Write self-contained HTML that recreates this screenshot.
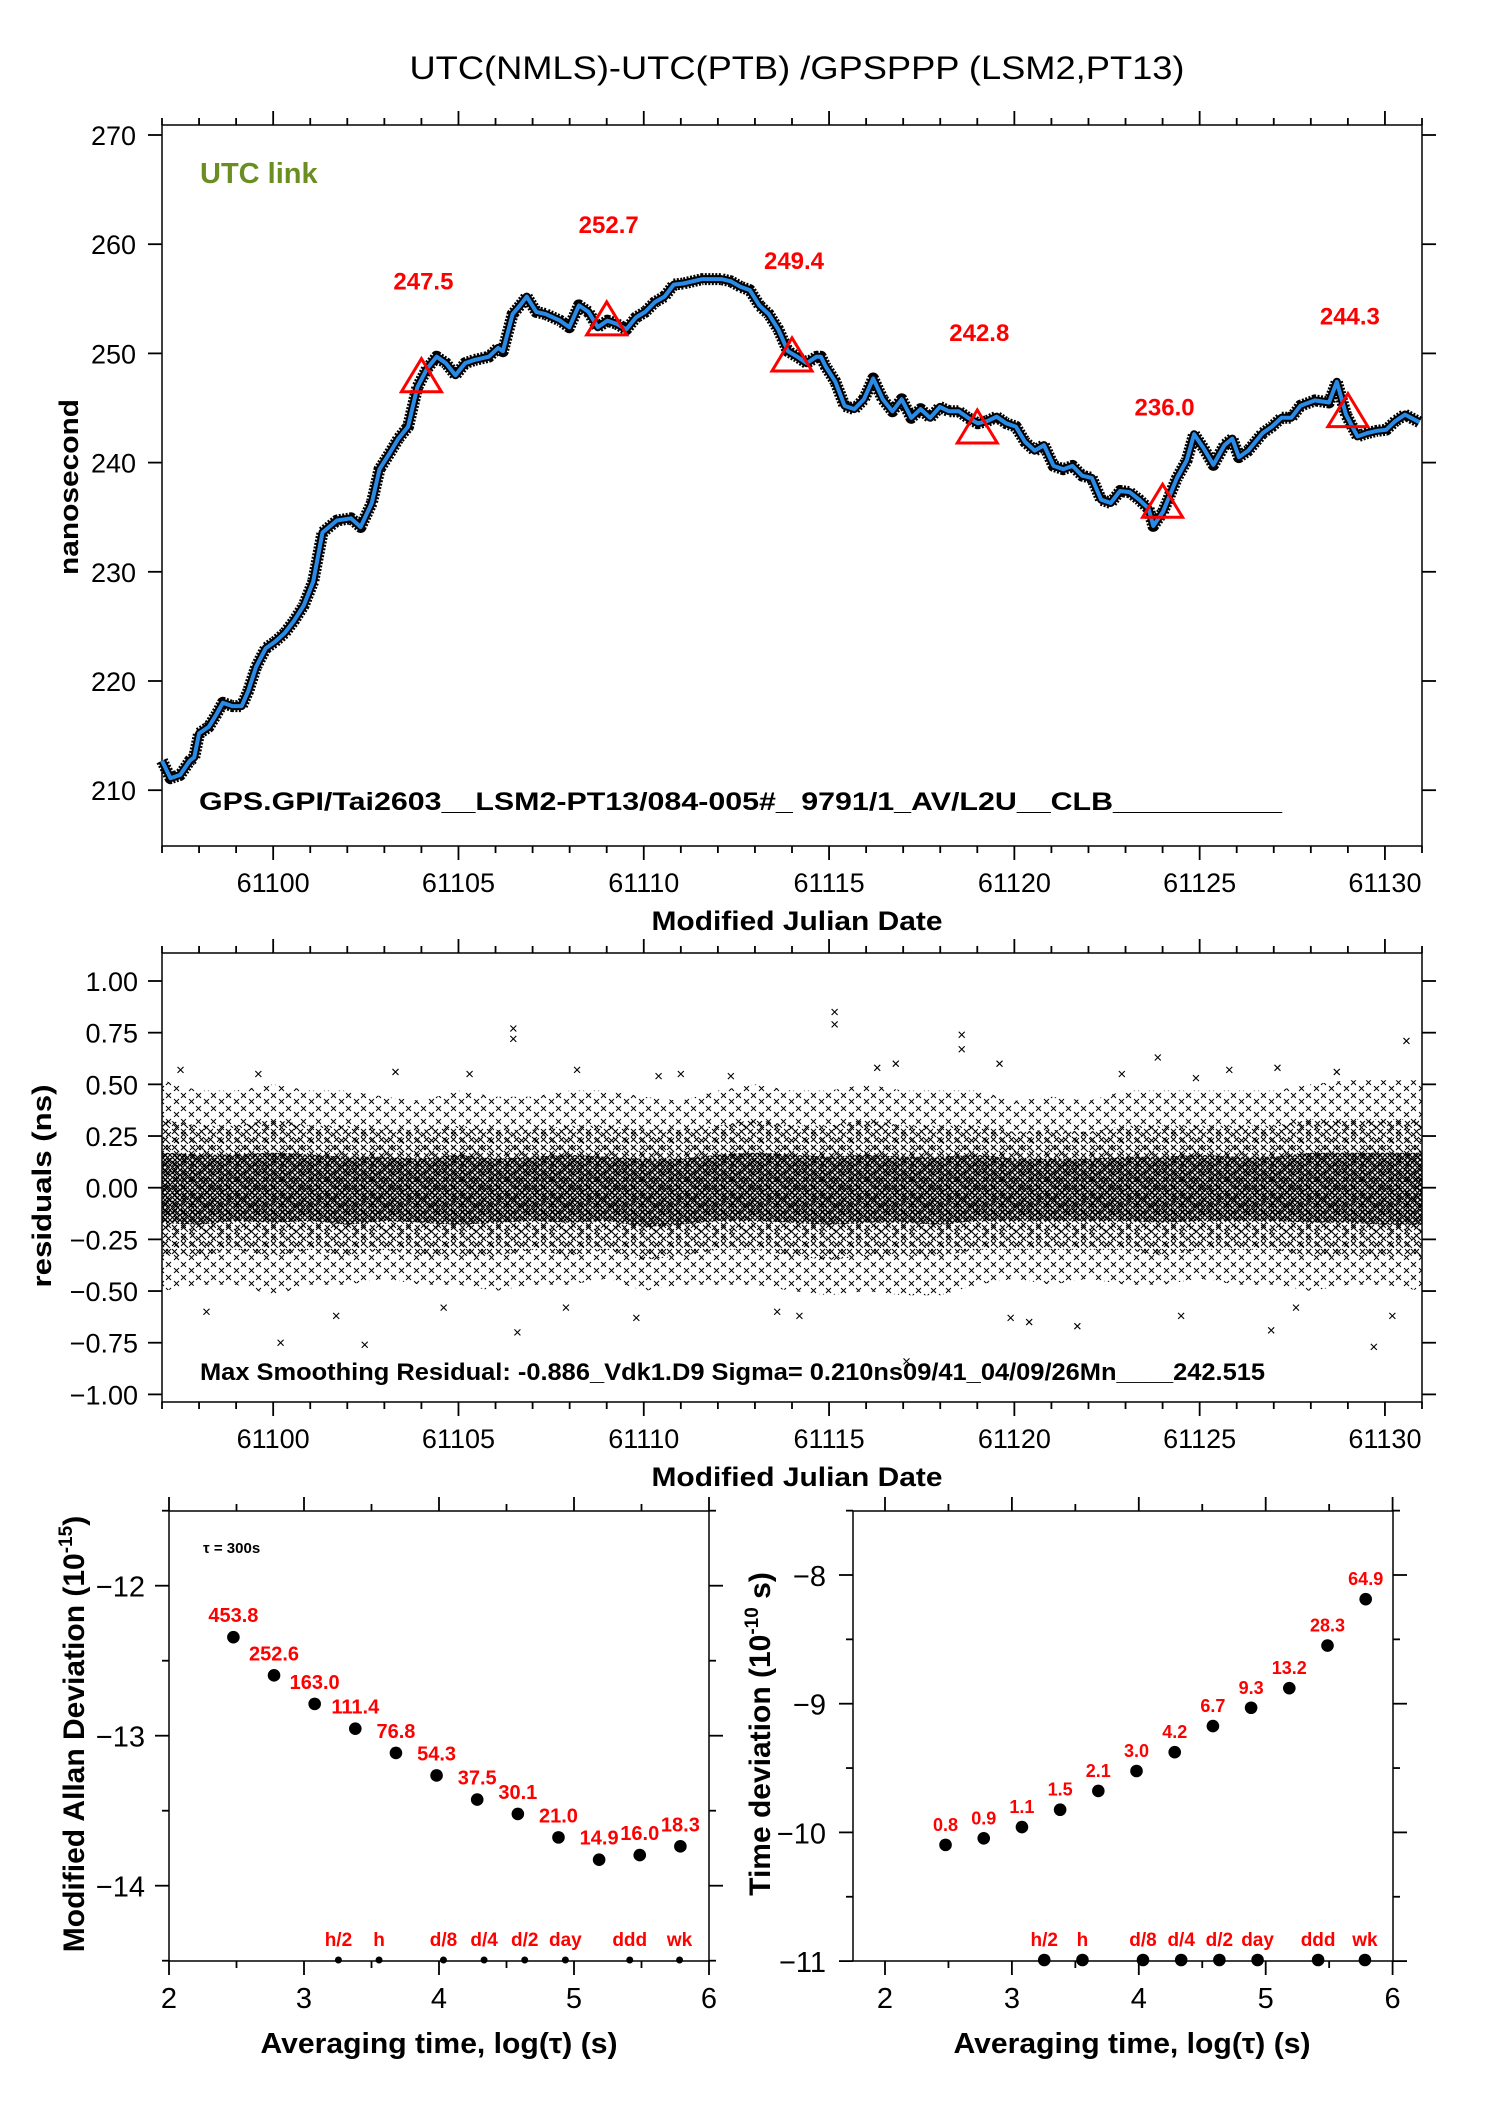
<!DOCTYPE html>
<html><head><meta charset="utf-8"><style>
html,body{margin:0;padding:0;background:#fff;}
svg{display:block;font-family:"Liberation Sans",Arial,sans-serif;}
</style></head><body>
<svg id="fig" width="1488" height="2105" viewBox="0 0 1488 2105" xmlns="http://www.w3.org/2000/svg">
<defs>
<pattern id="pOuter" width="15" height="13" patternUnits="userSpaceOnUse"><path d="M1,1 L6,6 M6,1 L1,6 M9,7 L14,12 M14,7 L9,12" stroke="#000" stroke-width="1"/></pattern>
<pattern id="pMid" width="9" height="8" patternUnits="userSpaceOnUse"><path d="M1,1 L6,6 M6,1 L1,6" stroke="#000" stroke-width="1.1"/><path d="M5,5 L8,8" stroke="#000" stroke-width="1"/></pattern>
<pattern id="pCore" width="5" height="5" patternUnits="userSpaceOnUse"><path d="M0,0 L5,5 M5,0 L0,5" stroke="#000" stroke-width="1.2"/></pattern>
</defs>
<text x="797" y="79" text-anchor="middle" font-size="32" textLength="775" lengthAdjust="spacingAndGlyphs">UTC(NMLS)-UTC(PTB)  /GPSPPP  (LSM2,PT13)</text>
<g id="topPanel"></g>
<g id="midPanel"></g>
<g id="bl"></g>
<g id="br"></g>
</svg>
<script>
// ---------- top panel data ----------
const seriesDayOffset = [-3.00,-2.77,-2.51,-2.25,-2.13,-2.00,-1.74,-1.54,-1.36,-1.10,-0.85,-0.67,-0.46,-0.20,0.05,0.31,0.56,0.82,1.08,1.33,1.72,2.10,2.36,2.66,2.87,3.13,3.38,3.64,3.89,4.15,4.41,4.66,4.92,5.18,5.43,5.82,6.07,6.20,6.46,6.66,6.84,7.10,7.35,7.74,7.99,8.25,8.51,8.76,9.02,9.27,9.53,9.79,10.04,10.30,10.56,10.81,11.07,11.58,12.09,12.35,12.61,12.86,13.12,13.37,13.63,13.89,14.14,14.40,14.66,14.78,14.91,15.17,15.42,15.68,15.94,16.19,16.45,16.71,16.96,17.22,17.47,17.73,17.99,18.24,18.50,18.75,19.01,19.27,19.52,19.78,20.04,20.29,20.55,20.80,21.06,21.32,21.57,21.83,22.09,22.34,22.60,22.85,23.11,23.37,23.62,23.75,24.01,24.39,24.65,24.85,25.11,25.37,25.67,25.88,26.06,26.31,26.70,26.95,27.21,27.47,27.72,28.11,28.49,28.70,28.95,29.26,29.52,29.77,30.03,30.28,30.54,30.93];
const seriesNs = [212.7,211.1,211.4,212.7,213.0,215.2,215.8,216.9,218.0,217.7,217.7,219.1,221.3,223.0,223.6,224.4,225.5,226.9,229.1,233.6,234.7,234.9,234.1,236.3,239.4,240.8,242.2,243.3,246.9,248.6,249.7,249.1,248.0,249.1,249.4,249.7,250.5,250.2,253.6,254.4,255.2,253.8,253.6,253.0,252.4,254.4,253.8,252.4,253.0,252.7,252.2,253.3,253.8,254.7,255.2,256.3,256.4,256.8,256.8,256.6,256.1,255.8,254.4,253.6,252.2,250.2,249.7,249.1,249.7,249.7,248.8,247.4,245.2,244.9,245.8,247.7,245.8,244.7,245.8,244.1,244.9,244.1,245.1,244.7,244.7,244.1,243.6,243.8,244.2,243.6,243.3,241.9,241.1,241.6,239.7,239.4,239.7,238.8,238.6,236.6,236.3,237.4,237.3,236.6,235.8,234.2,235.5,238.6,240.2,242.6,241.3,239.8,241.6,242.2,240.5,241.1,242.7,243.3,244.1,244.1,245.2,245.7,245.5,247.4,244.4,242.4,242.7,242.9,243.0,243.8,244.4,243.7];
const markDays = [61104,61109,61114,61119,61124,61129];
const markVals = [247.5,252.7,249.4,242.8,236.0,244.3];
const topYTicks = [210,220,230,240,250,260,270];
const xTickDays = [61100,61105,61110,61115,61120,61125,61130];

// ---------- residual panel data ----------
const residDays = [61097,61098,61099,61100,61101,61102,61103,61104,61105,61106,61107,61108,61109,61110,61111,61112,61113,61114,61115,61116,61117,61118,61119,61120,61121,61122,61123,61124,61125,61126,61127,61128,61129,61130,61131];
const residOuterHi = [0.52,0.47,0.47,0.50,0.47,0.47,0.44,0.42,0.47,0.44,0.44,0.47,0.47,0.44,0.42,0.47,0.50,0.47,0.47,0.50,0.47,0.47,0.47,0.42,0.44,0.42,0.47,0.47,0.47,0.47,0.47,0.50,0.52,0.52,0.52];
const residOuterLo = [-0.50,-0.47,-0.47,-0.52,-0.47,-0.47,-0.44,-0.47,-0.47,-0.50,-0.47,-0.47,-0.44,-0.50,-0.47,-0.47,-0.47,-0.50,-0.52,-0.50,-0.52,-0.52,-0.47,-0.44,-0.47,-0.44,-0.47,-0.47,-0.44,-0.47,-0.47,-0.50,-0.47,-0.47,-0.50];
const residMidHi = [0.33,0.30,0.30,0.33,0.30,0.30,0.28,0.28,0.30,0.28,0.28,0.30,0.30,0.28,0.28,0.30,0.33,0.30,0.30,0.33,0.30,0.30,0.30,0.27,0.28,0.27,0.30,0.30,0.30,0.30,0.30,0.33,0.33,0.33,0.33];
const residMidLo = [-0.33,-0.33,-0.30,-0.33,-0.30,-0.33,-0.30,-0.33,-0.33,-0.33,-0.30,-0.33,-0.30,-0.35,-0.33,-0.30,-0.30,-0.33,-0.35,-0.33,-0.33,-0.33,-0.30,-0.30,-0.30,-0.30,-0.30,-0.33,-0.30,-0.30,-0.30,-0.33,-0.33,-0.33,-0.33];
const residCoreHi = [0.17,0.16,0.16,0.17,0.16,0.15,0.15,0.14,0.16,0.14,0.15,0.16,0.15,0.14,0.14,0.16,0.17,0.16,0.15,0.16,0.15,0.15,0.16,0.14,0.14,0.14,0.15,0.15,0.16,0.15,0.15,0.17,0.17,0.17,0.17];
const residCoreLo = [-0.17,-0.18,-0.16,-0.17,-0.16,-0.18,-0.16,-0.17,-0.18,-0.17,-0.16,-0.17,-0.16,-0.19,-0.18,-0.16,-0.16,-0.17,-0.18,-0.17,-0.17,-0.18,-0.16,-0.16,-0.16,-0.16,-0.16,-0.17,-0.16,-0.16,-0.16,-0.17,-0.17,-0.18,-0.18];
const outlierDays = [61106.48,61106.48,61115.15,61115.15,61118.58,61118.58,61123.87,61130.58,61106.59,61100.20,61102.47,61117.09,61129.70,61121.70,61126.93,61112.35,61097.5,61098.2,61099.6,61101.7,61103.3,61104.6,61108.2,61109.8,61111.0,61113.6,61116.3,61119.6,61120.4,61122.9,61124.5,61125.8,61127.6,61128.7,61130.2,61105.3,61107.9,61110.4,61114.2,61116.8,61119.9,61124.9,61127.1];
const outlierVals = [0.77,0.72,0.85,0.79,0.74,0.67,0.63,0.71,-0.70,-0.75,-0.76,-0.84,-0.77,-0.67,-0.69,0.54,0.57,-0.60,0.55,-0.62,0.56,-0.58,0.57,-0.63,0.55,-0.60,0.58,0.60,-0.65,0.55,-0.62,0.57,-0.58,0.56,-0.62,0.55,-0.58,0.54,-0.62,0.60,-0.63,0.53,0.58];
const residYTicks = [-1.00,-0.75,-0.50,-0.25,0.00,0.25,0.50,0.75,1.00];

// ---------- stability panels data ----------
const logTau = [2.477,2.778,3.079,3.380,3.681,3.982,4.283,4.584,4.885,5.186,5.487,5.788];
const mdevValues = [453.8,252.6,163.0,111.4,76.8,54.3,37.5,30.1,21.0,14.9,16.0,18.3];
const tdevValues = [0.8,0.9,1.1,1.5,2.1,3.0,4.2,6.7,9.3,13.2,28.3,64.9];
const refNames = ["h/2","h","d/8","d/4","d/2","day","ddd","wk"];
const refLogTau = [3.255,3.556,4.033,4.334,4.635,4.936,5.413,5.782];
const mdevYTicks = [-14,-13,-12];
const tdevYTicks = [-11,-10,-9,-8];
const logXTicks = [2,3,4,5,6];

const NS = "http://www.w3.org/2000/svg";
function mk(parent, tag, attrs, txt){
  const e = document.createElementNS(NS, tag);
  for (const k in attrs) e.setAttribute(k, attrs[k]);
  if (txt !== undefined) e.textContent = txt;
  parent.appendChild(e);
  return e;
}
const fmtMinus = s => s.replace("-", "\u2212");

// ================= TOP PANEL =================
const topG = document.getElementById("topPanel");
const TL=162, TR=1422, TT=125, TB=846;
const dx = d => TL + (d-61097)*(TR-TL)/34;
const ty = v => 135 + (270-v)*10.92;

function boxAndXTicks(g, T, B, name){
  const r = mk(g,"rect",{x:TL,y:T,width:TR-TL,height:B-T,fill:"none",stroke:"#000","stroke-width":1.5});
  
  
  for (let d=61097; d<=61131; d++){
    const len = (d%5===0)?14:7;
    const t1 = mk(g,"line",{x1:dx(d),x2:dx(d),y1:T,y2:T-len,stroke:"#000","stroke-width":1.8});
    
    
    const t2 = mk(g,"line",{x1:dx(d),x2:dx(d),y1:B,y2:B+len,stroke:"#000","stroke-width":1.8});
    
    
  }
  xTickDays.forEach(d=>{
    const t = mk(g,"text",{x:dx(d),y:B+46,"text-anchor":"middle","font-size":27},String(d));
    
    
  });
  const xt = mk(g,"text",{x:797,y:B+84,"text-anchor":"middle","font-size":27,"font-weight":"bold",textLength:291,lengthAdjust:"spacingAndGlyphs"},"Modified Julian Date");
  
  
}
boxAndXTicks(topG, TT, TB, "top-plot-frame");
topYTicks.forEach(v=>{
  const y = ty(v);
  const a = mk(topG,"line",{x1:TL-14,x2:TL,y1:y,y2:y,stroke:"#000","stroke-width":1.8});
  
  
  const b = mk(topG,"line",{x1:TR,x2:TR+14,y1:y,y2:y,stroke:"#000","stroke-width":1.8});
  
  
  const t = mk(topG,"text",{x:TL-26,y:y+10,"text-anchor":"end","font-size":27},String(v));
  
  
});
{
  const yt = mk(topG,"text",{x:0,y:0,transform:"translate(78,487) rotate(-90)","text-anchor":"middle","font-size":27,"font-weight":"bold",textLength:176,lengthAdjust:"spacingAndGlyphs"},"nanosecond");
  
  
  const ul = mk(topG,"text",{x:200,y:183,"font-size":29,"font-weight":"bold",fill:"#6b8e23"},"UTC link");
  
  
  let d = "";
  seriesDayOffset.forEach((o,i)=>{ d += (i?"L":"M") + dx(61100+o).toFixed(1) + "," + ty(seriesNs[i]).toFixed(1); });
  const band = mk(topG,"path",{d:d,fill:"none",stroke:"#000","stroke-width":12,"stroke-linejoin":"round","stroke-dasharray":"2 1.5"});
  
  
  const band2 = mk(topG,"path",{d:d,fill:"none",stroke:"#000","stroke-width":8,"stroke-linejoin":"round"});
  
  
  const line = mk(topG,"path",{d:d,fill:"none",stroke:"#2a8be6","stroke-width":4,"stroke-linejoin":"round"});
  
  
  markDays.forEach((md,i)=>{
    const x = dx(md), y = ty(markVals[i]);
    const tri = mk(topG,"polygon",{points:`${x},${y-22} ${x-20},${y+11} ${x+20},${y+11}`,fill:"none",stroke:"#ff0000","stroke-width":3});
    
    
    const lb = mk(topG,"text",{x:x+2,y:y-91,"text-anchor":"middle","font-size":24,"font-weight":"bold",fill:"#ff0000"},markVals[i].toFixed(1));
    
    
  });
  const ft = mk(topG,"text",{x:199,y:810,"font-size":25,"font-weight":"bold",textLength:1083,lengthAdjust:"spacingAndGlyphs"},"GPS.GPI/Tai2603__LSM2-PT13/084-005#_  9791/1_AV/L2U__CLB__________");
  
  
}

// ================= MIDDLE PANEL =================
const midG = document.getElementById("midPanel");
const MT=953, MB=1402;
const ry = v => 1187.7 - v*206.7;
boxAndXTicks(midG, MT, MB, "residual-plot-frame");
residYTicks.forEach(v=>{
  const y = ry(v);
  const a = mk(midG,"line",{x1:TL-14,x2:TL,y1:y,y2:y,stroke:"#000","stroke-width":1.8});
  
  
  const b = mk(midG,"line",{x1:TR,x2:TR+14,y1:y,y2:y,stroke:"#000","stroke-width":1.8});
  
  
  const t = mk(midG,"text",{x:TL-24,y:y+10,"text-anchor":"end","font-size":27},fmtMinus(v.toFixed(2)));
  
  
});
function bandPath(hi, lo){
  let d = "";
  residDays.forEach((dd,i)=>{ d += (i?"L":"M") + dx(dd).toFixed(1) + "," + ry(hi[i]).toFixed(1); });
  for (let i=residDays.length-1;i>=0;i--) d += "L" + dx(residDays[i]).toFixed(1) + "," + ry(lo[i]).toFixed(1);
  return d + "Z";
}
{
  const o = mk(midG,"path",{d:bandPath(residOuterHi,residOuterLo),fill:"url(#pOuter)"});
  
  
  const m = mk(midG,"path",{d:bandPath(residMidHi,residMidLo),fill:"url(#pMid)"});
  
  
  const c = mk(midG,"path",{d:bandPath(residCoreHi,residCoreLo),fill:"url(#pCore)"});
  
  
  outlierDays.forEach((od,i)=>{
    const x = dx(od), y = ry(outlierVals[i]);
    const p = mk(midG,"path",{d:`M${x-3},${y-3}L${x+3},${y+3}M${x+3},${y-3}L${x-3},${y+3}`,stroke:"#000","stroke-width":1.1});
    
    
  });
  const yt = mk(midG,"text",{x:0,y:0,transform:"translate(51,1186) rotate(-90)","text-anchor":"middle","font-size":27,"font-weight":"bold",textLength:203,lengthAdjust:"spacingAndGlyphs"},"residuals (ns)");
  
  
  const ft = mk(midG,"text",{x:200,y:1380,"font-size":24,"font-weight":"bold",textLength:1065,lengthAdjust:"spacingAndGlyphs"},"Max Smoothing Residual: -0.886_Vdk1.D9  Sigma= 0.210ns09/41_04/09/26Mn____242.515");
  
  
}

// ================= STABILITY PANELS =================
function stabPanel(g, L, R, x0, xs, y0val, y0px, ys, yTicks, yMin, yMax, values, exp, labelDy, refR, titleParts, titleX, axTitleX, tickRight, labelFs){
  const T=1511, B=1961;
  const px = l => x0 + (l-2)*xs;
  const py = v => y0px + (y0val - v)*ys;
  const fr = mk(g,"rect",{x:L,y:T,width:R-L,height:B-T,fill:"none",stroke:"#000","stroke-width":1.5});
  
  
  for (let l=2; l<=6; l+=0.5){
    if (px(l) < L-1 || px(l) > R+1) continue;
    const len = Number.isInteger(l)?14:7;
    const a = mk(g,"line",{x1:px(l),x2:px(l),y1:T,y2:T-len,stroke:"#000","stroke-width":1.8});
    
    
    const b = mk(g,"line",{x1:px(l),x2:px(l),y1:B,y2:B+len,stroke:"#000","stroke-width":1.8});
    
    
  }
  logXTicks.forEach(l=>{
    const t = mk(g,"text",{x:px(l),y:2008,"text-anchor":"middle","font-size":29},String(l));
    
    
  });
  for (let v=yMin; v<=yMax+1e-9; v+=0.5){
    const y = py(v);
    if (y < T-1 || y > B+1) continue;
    const len = Number.isInteger(v)?14:7;
    const a = mk(g,"line",{x1:L-len,x2:L,y1:y,y2:y,stroke:"#000","stroke-width":1.8});
    
    
    const b = mk(g,"line",{x1:R,x2:R+len,y1:y,y2:y,stroke:"#000","stroke-width":1.8});
    
    
  }
  yTicks.forEach(v=>{
    const t = mk(g,"text",{x:tickRight,y:py(v)+11,"text-anchor":"end","font-size":29},"\u2212"+String(Math.abs(v)));
    
    
  });
  logTau.forEach((l,i)=>{
    const v = Math.log10(values[i]) + exp;
    const x = px(l), y = py(v);
    const c = mk(g,"circle",{cx:x,cy:y,r:6.3,fill:"#000"});
    
    
    const t = mk(g,"text",{x:x,y:y-labelDy,"text-anchor":"middle","font-size":labelFs,"font-weight":"bold",fill:"#ff0000"},values[i].toFixed(1));
    
    
  });
  refLogTau.forEach((l,i)=>{
    const x = px(l);
    const c = mk(g,"circle",{cx:x,cy:B-1,r:refR,fill:"#000"});
    
    
    const t = mk(g,"text",{x:x,y:1946,"text-anchor":"middle","font-size":19,"font-weight":"bold",fill:"#ff0000"},refNames[i]);
    
    
  });
  const at = mk(g,"text",{x:(L+R)/2 + axTitleX,y:2053,"text-anchor":"middle","font-size":29,"font-weight":"bold",textLength:357,lengthAdjust:"spacingAndGlyphs"},"Averaging time, log(\u03c4) (s)");
  
  
  const yt = mk(g,"text",{x:0,y:0,transform:`translate(${titleX},${(T+B)/2 - 2}) rotate(-90)`,"text-anchor":"middle","font-size":30,"font-weight":"bold"});
  
  
  mk(yt,"tspan",{},titleParts[0]);
  mk(yt,"tspan",{"font-size":19,dy:-12},titleParts[1]);
  mk(yt,"tspan",{dy:12},titleParts[2]);
}
stabPanel(document.getElementById("bl"), 169, 709, 169, 135, -12, 1585.7, 150, mdevYTicks, -14.5, -11.5, mdevValues, -15, 15, 3.5,
  ["Modified Allan Deviation (10","-15",")"], 84, 0, 145, 20);
stabPanel(document.getElementById("br"), 853, 1393, 885, 126.9, -8, 1575, 128.7, tdevYTicks, -11, -7.5, tdevValues, -10, 14, 6.3,
  ["Time deviation (10","-10"," s)"], 770, 9, 826, 18);
{
  const tl = mk(document.getElementById("bl"),"text",{x:203,y:1553,"font-size":15,"font-weight":"bold"},"\u03c4 = 300s");
  
  
}
</script>
</body></html>
